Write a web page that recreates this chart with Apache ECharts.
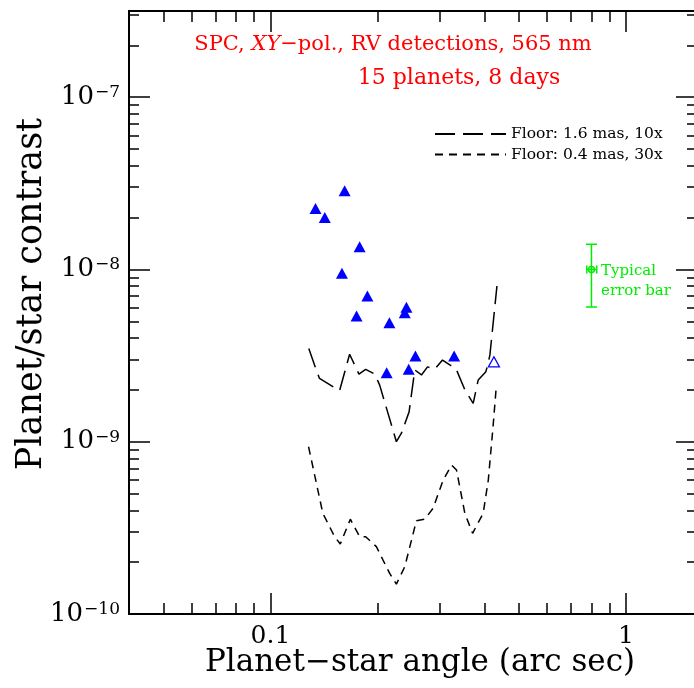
<!DOCTYPE html>
<html>
<head>
<meta charset="utf-8">
<script src="https://cdn.jsdelivr.net/npm/echarts@6/dist/echarts.min.js"></script>
<style>
html, body { margin: 0; padding: 0; background: #fff; }
#chart { width: 694px; height: 688px; }
</style>
</head>
<body>
<div id="chart"></div>
<script>
// planets detected (angle in arc sec, contrast)
var planetAngle = [0.1339, 0.1422, 0.1617, 0.1782, 0.1589, 0.1874, 0.1747, 0.2161, 0.2413, 0.2387, 0.2558, 0.3287, 0.2123, 0.2449];
var planetContrast = [2.26e-8, 2.00e-8, 2.86e-8, 1.355e-8, 9.49e-9, 7.01e-9, 5.36e-9, 4.90e-9, 6.03e-9, 5.61e-9, 3.14e-9, 3.14e-9, 2.51e-9, 2.63e-9];
var openAngle = [0.4253];
var openContrast = [2.91e-9];

// floor 1.6 mas, 10x
var floorAAngle = [0.1282, 0.1345, 0.1374, 0.1565, 0.1670, 0.1774, 0.1853, 0.1965, 0.2029, 0.2261, 0.2336, 0.2455, 0.2547, 0.2660, 0.2766, 0.2900, 0.3048, 0.3196, 0.3323, 0.3523, 0.3718, 0.3841, 0.4037, 0.4104, 0.4144, 0.4337];
var floorAContrast = [3.48e-9, 2.61e-9, 2.33e-9, 1.98e-9, 3.22e-9, 2.47e-9, 2.63e-9, 2.47e-9, 2.13e-9, 1.00e-9, 1.12e-9, 1.49e-9, 2.61e-9, 2.44e-9, 2.72e-9, 2.64e-9, 2.98e-9, 2.79e-9, 2.67e-9, 2.00e-9, 1.67e-9, 2.28e-9, 2.55e-9, 2.90e-9, 3.19e-9, 8.01e-9];

// floor 0.4 mas, 30x
var floorBAngle = [0.1280, 0.1404, 0.1515, 0.1572, 0.1678, 0.1782, 0.1853, 0.1986, 0.2165, 0.2261, 0.2387, 0.2574, 0.2718, 0.2868, 0.3061, 0.3233, 0.3338, 0.3523, 0.3704, 0.3967, 0.4101, 0.4233, 0.4322];
var floorBContrast = [9.35e-10, 3.84e-10, 2.81e-10, 2.55e-10, 3.55e-10, 2.81e-10, 2.81e-10, 2.46e-10, 1.72e-10, 1.49e-10, 1.88e-10, 3.48e-10, 3.55e-10, 4.11e-10, 5.99e-10, 7.32e-10, 6.85e-10, 3.84e-10, 2.94e-10, 3.84e-10, 5.99e-10, 1.25e-9, 2.13e-9];

// typical error bar: low, centre, high
var errAngle = [0.776, 0.8, 0.828];
var errContrast = [6.05e-9, 1.0e-8, 1.4e-8];

// axes
var xRange = [0.04, 1.585];
var yRange = [1e-10, 3.162e-7];
var xMajor = [0.1, 1];
var xMinor = [0.05, 0.06, 0.07, 0.08, 0.09, 0.2, 0.3, 0.4, 0.5, 0.6, 0.7, 0.8, 0.9];
var yMajor = [1e-10, 1e-9, 1e-8, 1e-7];
var yMinor = [];
[1e-10, 1e-9, 1e-8].forEach(function (d) {
    for (var k = 2; k <= 9; k++) yMinor.push(k * d);
});
yMinor.push(2e-7, 3e-7);

var serif = 'DejaVu Serif';
var lg = Math.log10;

function pairs(xs, ys) {
    return xs.map(function (x, i) { return [lg(x), lg(ys[i])]; });
}

function xAxisCfg(pos, ticks, len, withLabel) {
    return {
        type: 'value', position: pos, min: lg(xRange[0]), max: lg(xRange[1]),
        axisLine: { show: true, onZero: false, lineStyle: { color: '#000', width: 2 } },
        axisTick: { show: true, inside: true, length: len, customValues: ticks.map(lg),
            lineStyle: { color: '#000', width: 1.5 } },
        axisLabel: withLabel ? {
            show: true, customValues: xMajor.map(lg), margin: 10,
            color: '#000', fontFamily: serif, fontSize: 25,
            formatter: function (v) { return String(Math.round(Math.pow(10, v) * 100) / 100); }
        } : { show: false },
        splitLine: { show: false }
    };
}

function yAxisCfg(pos, ticks, len, withLabel) {
    return {
        type: 'value', position: pos, min: lg(yRange[0]), max: -6.5,
        // right frame edge sits just outside the picture
        axisLine: { show: pos === 'left', onZero: false, lineStyle: { color: '#000', width: 2 } },
        axisTick: { show: true, inside: true, length: len, customValues: ticks.map(lg),
            lineStyle: { color: '#000', width: 1.5 } },
        axisLabel: withLabel ? {
            show: true, customValues: yMajor.map(lg), margin: 9,
            formatter: function (v) { return '{b|10}{s|\u2212' + Math.round(-v) + '}'; },
            rich: {
                b: { fontFamily: serif, fontSize: 26, color: '#000' },
                s: { fontFamily: serif, fontSize: 17, color: '#000', verticalAlign: 'top', padding: [0, 0, 0, 1] }
            }
        } : { show: false },
        splitLine: { show: false }
    };
}

var chart = echarts.init(document.getElementById('chart'));

var option = {
    animation: false,
    backgroundColor: '#fff',
    grid: { left: 129, right: -3, top: 11, bottom: 74, containLabel: false, outerBoundsMode: 'none' },
    xAxis: [
        xAxisCfg('bottom', xMajor, 21, true),
        xAxisCfg('bottom', xMinor, 11, false),
        xAxisCfg('top', xMajor, 21, false),
        xAxisCfg('top', xMinor, 11, false)
    ],
    yAxis: [
        yAxisCfg('left', yMajor, 21, true),
        yAxisCfg('left', yMinor, 10, false),
        yAxisCfg('right', yMajor, 21, false),
        yAxisCfg('right', yMinor, 10, false)
    ],
    legend: {
        data: ['Floor: 1.6 mas, 10x', 'Floor: 0.4 mas, 30x'],
        orient: 'vertical', left: 434, top: 126, padding: 0,
        itemWidth: 71, itemHeight: 14, itemGap: 4.5,
        itemStyle: { opacity: 0 },
        textStyle: { fontFamily: serif, fontSize: 15.5, color: '#000' },
        selectedMode: false
    },
    graphic: [
        { type: 'text', x: 393, y: 45, style: {
            text: 'SPC, {i|XY}\u2212pol., RV detections, 565 nm',
            fontFamily: serif, fontSize: 21, fill: '#ff0000', align: 'center', verticalAlign: 'middle',
            rich: { i: { fontFamily: serif, fontSize: 21, fontStyle: 'italic', fill: '#ff0000' } } } },
        { type: 'text', x: 459, y: 78, style: {
            text: '15 planets, 8 days',
            fontFamily: serif, fontSize: 22, fill: '#ff0000', align: 'center', verticalAlign: 'middle' } },
        { type: 'text', x: 601, y: 261, style: {
            text: 'Typical\nerror bar', lineHeight: 20,
            fontFamily: serif, fontSize: 15, fill: '#00ee00', align: 'left', verticalAlign: 'top' } },
        { type: 'text', x: 420, y: 663, style: {
            text: 'Planet\u2212star angle (arc sec)',
            fontFamily: serif, fontSize: 31, fill: '#000', align: 'center', verticalAlign: 'middle' } },
        { type: 'text', x: 32, y: 294, rotation: Math.PI / 2, style: {
            text: 'Planet/star contrast',
            fontFamily: serif, fontSize: 35, fill: '#000', align: 'center', verticalAlign: 'middle' } }
    ],
    series: [
        {
            name: 'Floor: 1.6 mas, 10x', type: 'line', data: pairs(floorAAngle, floorAContrast),
            symbol: 'none', silent: true,
            lineStyle: { color: '#000', width: 1.5, type: [20, 8] }
        },
        {
            name: 'Floor: 0.4 mas, 30x', type: 'line', data: pairs(floorBAngle, floorBContrast),
            symbol: 'none', silent: true,
            lineStyle: { color: '#000', width: 1.5, type: [8, 6] }
        },
        {
            name: 'planets', type: 'scatter', data: pairs(planetAngle, planetContrast),
            symbol: 'triangle', symbolSize: [12, 11], silent: true,
            itemStyle: { color: '#0000ff', opacity: 1 }
        },
        {
            name: 'planet open', type: 'scatter', data: pairs(openAngle, openContrast),
            symbol: 'triangle', symbolSize: [11, 10], silent: true,
            itemStyle: { color: '#fff', borderColor: '#0000ff', borderWidth: 1.3, opacity: 1 }
        },
        {
            name: 'error bar', type: 'custom', silent: true,
            data: [[lg(errAngle[1]), lg(errContrast[1]), lg(errContrast[0]), lg(errContrast[2]), lg(errAngle[0]), lg(errAngle[2])]],
            encode: { x: 0, y: 1 },
            renderItem: function (params, api) {
                var c = api.coord([api.value(0), api.value(1)]);
                var lo = api.coord([api.value(0), api.value(2)]);
                var hi = api.coord([api.value(0), api.value(3)]);
                var xl = api.coord([api.value(4), api.value(1)]);
                var xh = api.coord([api.value(5), api.value(1)]);
                var st = { stroke: '#00ee00', lineWidth: 1.5, fill: null };
                function seg(x1, y1, x2, y2) {
                    return { type: 'line', shape: { x1: x1, y1: y1, x2: x2, y2: y2 }, style: st };
                }
                return {
                    type: 'group',
                    children: [
                        seg(c[0], lo[1], c[0], hi[1]),
                        seg(c[0] - 5.5, lo[1], c[0] + 5.5, lo[1]),
                        seg(c[0] - 5.5, hi[1], c[0] + 5.5, hi[1]),
                        seg(xl[0], c[1], xh[0], c[1]),
                        seg(xl[0], c[1] - 4, xl[0], c[1] + 4),
                        seg(xh[0], c[1] - 4, xh[0], c[1] + 4),
                        { type: 'circle', shape: { cx: c[0], cy: c[1], r: 3 }, style: st }
                    ]
                };
            }
        }
    ]
};

chart.setOption(option);
</script>
</body>
</html>
